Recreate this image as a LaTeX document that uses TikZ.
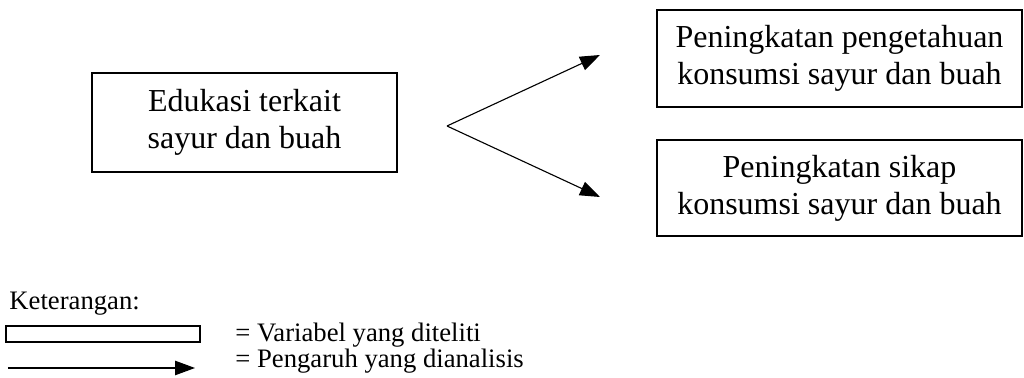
\documentclass[tikz,border=0pt]{standalone}
\usepackage{fontspec}
\setmainfont{Liberation Serif}
\usetikzlibrary{arrows.meta}

\begin{document}
\begin{tikzpicture}[x=0.45pt,y=-0.45pt,
    kotak/.style={draw,line width=0.9pt,inner sep=0pt,align=center,font=\fontsize{14.4}{16.6}\selectfont},
    panah/.style={-{Triangle[length=9pt,width=6.5pt]},line width=0.5pt},
    ket/.style={inner sep=0pt,anchor=base west,font=\fontsize{12}{14}\selectfont}]
    \useasboundingbox (0,0) rectangle (1024,378);
    %変数
    \node[kotak,minimum width=137pt,minimum height=44.5pt] (edukasi) at (244.5,122.5) {Edukasi terkait\\sayur dan buah};
    \node[kotak,minimum width=164pt,minimum height=43.6pt] (pengetahuan) at (839.5,58.5) {Peningkatan pengetahuan\\konsumsi sayur dan buah};
    \node[kotak,minimum width=164pt,minimum height=43.6pt] (sikap) at (839.5,188) {Peningkatan sikap\\konsumsi sayur dan buah};
    %矢印
    \coordinate (cabang) at (447,126);
    \coordinate (ujung1) at (600,55);
    \coordinate (ujung2) at (600,197);
    \draw[panah] (cabang)--(ujung1);
    \draw[panah] (cabang)--(ujung2);
    %凡例
    \node[ket] (keterangan) at (9,310) {Keterangan:};
    \node[draw,line width=0.9pt,inner sep=0pt,minimum width=87.3pt,minimum height=7.2pt] (contoh) at (103,334.5) {};
    \node[ket] (ket1) at (235,342) {= Variabel yang diteliti};
    \coordinate (awal) at (8,368);
    \coordinate (akhir) at (195,368);
    \draw[panah] (awal)--(akhir);
    \node[ket] (ket2) at (235,368) {= Pengaruh yang dianalisis};
\end{tikzpicture}
\end{document}
